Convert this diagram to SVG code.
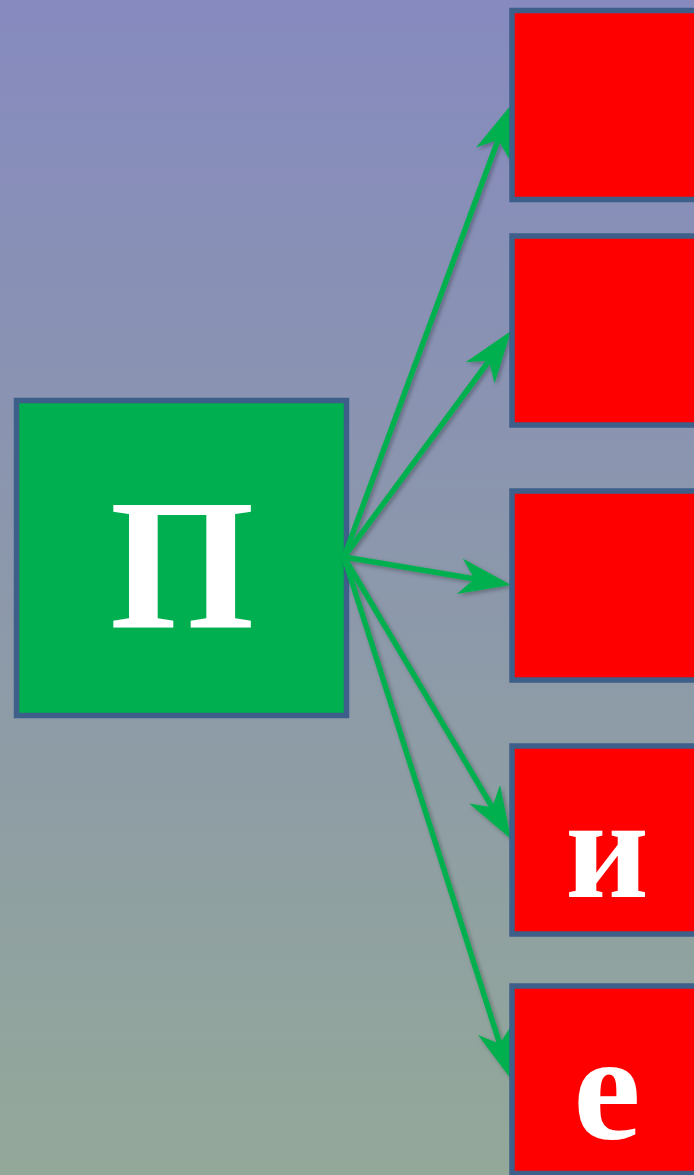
<svg xmlns="http://www.w3.org/2000/svg" width="694" height="1175" viewBox="0 0 694 1175">
  <defs>
    <linearGradient id="bg" x1="0" y1="0" x2="0" y2="1">
      <stop offset="0" stop-color="#868ABF"/>
      <stop offset="0.5" stop-color="#8C98AB"/>
      <stop offset="1" stop-color="#93A899"/>
    </linearGradient>
    <marker id="head" viewBox="0 -18 52 36" refX="16" refY="0" markerWidth="52" markerHeight="36" markerUnits="userSpaceOnUse" orient="auto" overflow="visible">
      <path d="M52,0 L0,-18 L15,0 L0,18 Z" fill="#00B050"/>
    </marker>
    <filter id="shadow" x="-20%" y="-20%" width="140%" height="140%">
      <feDropShadow dx="2" dy="2" stdDeviation="2" flood-color="#000" flood-opacity="0.3"/>
    </filter>
    <style>
      .box { stroke: #3E5F8A; stroke-width: 5.5; }
      .green { fill: #00AF50; }
      .red { fill: #FF0000; }
      .lbl { font-family: "Liberation Serif", "Times New Roman", serif; font-weight: bold; fill: #FFFFFF; text-anchor: middle; }
      .conn { stroke: #00B050; stroke-width: 5.5; fill: none; marker-end: url(#head); }
    </style>
  </defs>
  <rect x="0" y="0" width="694" height="1175" fill="url(#bg)"/>

  <g id="node-p">
    <rect class="box green" x="16.5" y="400.5" width="330" height="315"/>
    <text class="lbl" x="182" y="627" font-size="186">П</text>
  </g>

  <g id="connectors" filter="url(#shadow)">
    <line class="conn" x1="344" y1="557" x2="498.5" y2="138.8"/>
    <line class="conn" x1="344" y1="557" x2="489.6" y2="360.0"/>
    <line class="conn" x1="344" y1="557" x2="475.5" y2="579.0"/>
    <line class="conn" x1="344" y1="557" x2="492.7" y2="808.0"/>
    <line class="conn" x1="344" y1="557" x2="500.0" y2="1044.7"/>
  </g>

  <g id="node-1">
    <rect class="box red" x="512" y="10.5" width="200" height="189"/>
  </g>
  <g id="node-2">
    <rect class="box red" x="512" y="236" width="200" height="189"/>
  </g>
  <g id="node-3">
    <rect class="box red" x="512" y="491" width="200" height="189"/>
  </g>
  <g id="node-4">
    <rect class="box red" x="512" y="746" width="200" height="188"/>
    <text class="lbl" x="607" y="897" font-size="145">и</text>
  </g>
  <g id="node-5">
    <rect class="box red" x="512" y="986" width="200" height="187.5"/>
    <text class="lbl" x="607" y="1139" font-size="152">е</text>
  </g>
</svg>
